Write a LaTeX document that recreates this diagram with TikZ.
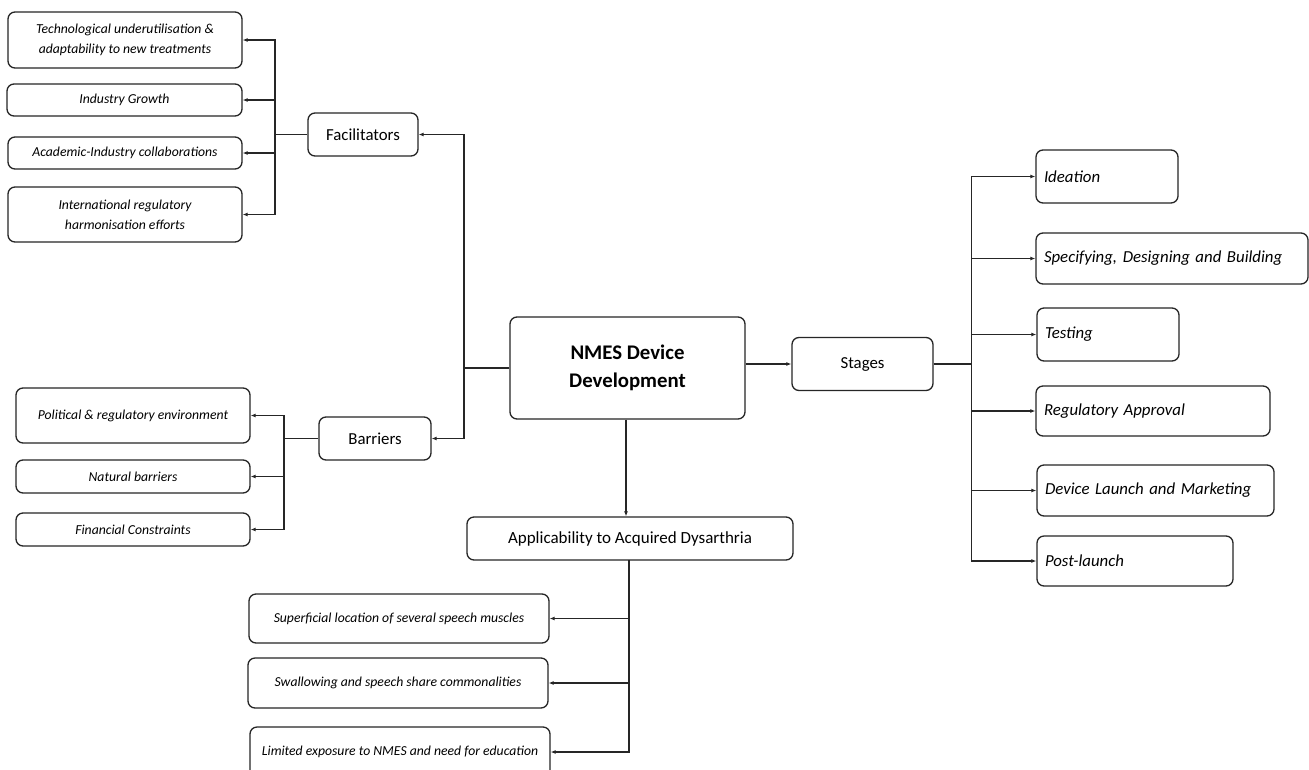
\documentclass[tikz,border=0pt]{standalone}
\usepackage{fontspec}
\setmainfont{Carlito}
\usetikzlibrary{arrows.meta}
\tikzset{
  box/.style={draw=black!85, line width=1.3pt, rounded corners=7pt, inner sep=0pt, align=center, fill=white},
  leftitem/.style={box, font=\fontsize{13.7}{20}\selectfont\itshape},
  rightitem/.style={box, font=\fontsize{16.8}{20}\selectfont\itshape, align=left, inner xsep=8pt},
  midbox/.style={box, font=\fontsize{16.8}{20}\selectfont},
  conn/.style={draw=black!85, line width=1.3pt},
  arr/.style={conn, -{Latex[length=5pt,width=4pt]}},
}
\begin{document}
\begin{tikzpicture}[x=1pt,y=-1pt]
\useasboundingbox[fill=white] (0,0) rectangle (1309,769);
% central
\node[box, font=\fontsize{20.8}{28}\selectfont\bfseries, minimum width=235pt, minimum height=102pt] (nm) at (627.5,368) {NMES Device\\Development};
% facilitators
\node[midbox, minimum width=110pt, minimum height=43pt] (fac) at (363,134.5) {Facilitators};
\node[leftitem, minimum width=234pt, minimum height=56pt] (f1) at (125,40) {Technological underutilisation \&\\adaptability to new treatments};
\node[leftitem, minimum width=235pt, minimum height=32pt] (f2) at (124.5,100) {Industry Growth};
\node[leftitem, minimum width=234pt, minimum height=32pt] (f3) at (125,153) {Academic-Industry collaborations};
\node[leftitem, minimum width=234pt, minimum height=55pt] (f4) at (125,214.5) {International regulatory\\harmonisation efforts};
% barriers
\node[midbox, minimum width=112pt, minimum height=43pt] (bar) at (375,438.5) {Barriers};
\node[leftitem, minimum width=234pt, minimum height=55pt] (b1) at (133,415.5) {Political \& regulatory environment};
\node[leftitem, minimum width=234pt, minimum height=33pt] (b2) at (133,476.5) {Natural barriers};
\node[leftitem, minimum width=234pt, minimum height=33pt] (b3) at (133,529.5) {Financial Constraints};
% stages
\node[midbox, minimum width=141pt, minimum height=53pt] (st) at (862.5,364) {Stages};
\node[rightitem, text width=126pt, minimum height=53pt] (s1) at (1107,176.5) {Ideation};
\node[rightitem, text width=256pt, minimum height=51pt] (s2) at (1172,258.5) {Specifying, Designing and Building};
\node[rightitem, text width=126pt, minimum height=53pt] (s3) at (1108,334.5) {Testing};
\node[rightitem, text width=218pt, minimum height=50pt] (s4) at (1153,411) {Regulatory Approval};
\node[rightitem, text width=221pt, minimum height=51pt] (s5) at (1155.5,490.5) {Device Launch and Marketing};
\node[rightitem, text width=180pt, minimum height=50pt] (s6) at (1135,561) {Post-launch};
% applicability
\node[box, font=\fontsize{17}{20}\selectfont, minimum width=326pt, minimum height=43pt] (app) at (630,538.5) {Applicability to Acquired Dysarthria};
\node[leftitem, minimum width=300pt, minimum height=49pt] (a1) at (399,618.5) {Superficial location of several speech muscles};
\node[leftitem, minimum width=300pt, minimum height=50pt] (a2) at (398,683) {Swallowing and speech share commonalities};
\node[leftitem, minimum width=300pt, minimum height=50pt] (a3) at (400,752) {Limited exposure to NMES and need for education};
% connectors
\coordinate (fbus) at (275,134.5);
\draw[conn] (fac.west) -- (fbus);
\foreach \n in {f1,f2,f3,f4} \draw[arr] (fbus) |- (\n.east);
\coordinate (bbus) at (284,438.5);
\draw[conn] (bar.west) -- (bbus);
\foreach \n in {b1,b2,b3} \draw[arr] (bbus) |- (\n.east);
\coordinate (mbus) at (464,368);
\draw[conn] (nm.west) -- (mbus);
\draw[arr] (mbus) |- (fac.east);
\draw[arr] (mbus) |- (bar.east);
\draw[arr] (nm.east |- st.west) -- (st.west);
\coordinate (sbus) at (971.5,364);
\draw[conn] (st.east) -- (sbus);
\foreach \n in {s1,s2,s3,s4,s5,s6} \draw[arr] (sbus) |- (\n.west);
\draw[arr] (nm.south -| 626,0) -- (app.north -| 626,0);
\coordinate (abus) at (629,560);
\foreach \n in {a1,a2,a3} \draw[arr] (abus) |- (\n.east);
\end{tikzpicture}
\end{document}
